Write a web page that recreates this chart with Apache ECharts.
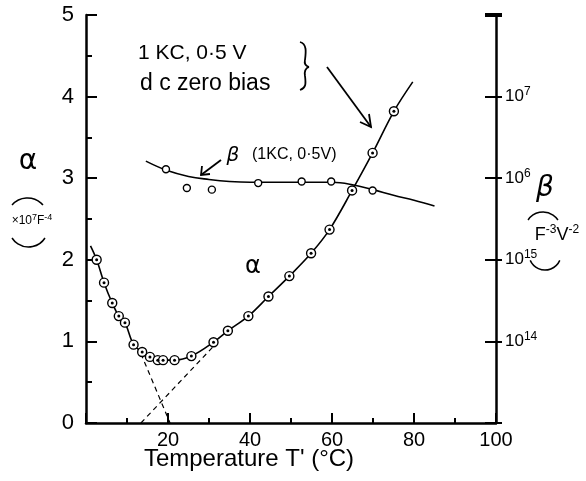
<!DOCTYPE html>
<html>
<head>
<meta charset="utf-8">
<script src="https://cdn.jsdelivr.net/npm/echarts@6/dist/echarts.min.js"></script>
<style>
  html, body { margin: 0; padding: 0; background: #fff; }
  #main { width: 586px; height: 481px; }
</style>
</head>
<body>
<div id="main"></div>
<script>
// alpha (x10^7 F^-4) measured points
const alphaT = [2.6, 4.4, 6.4, 8.0, 9.5, 11.6, 13.7, 15.6, 17.5, 18.8, 21.6, 25.7, 31.1, 34.6, 39.6, 44.5, 49.6, 54.9, 59.4, 64.9, 69.9, 75.1];
const alphaV = [2.00, 1.72, 1.47, 1.31, 1.23, 0.96, 0.87, 0.81, 0.77, 0.77, 0.77, 0.82, 0.99, 1.13, 1.31, 1.55, 1.80, 2.08, 2.37, 2.85, 3.31, 3.82];
// ends of the drawn alpha curve
const alphaStart = [1.1, 2.17];
const alphaEnd = [79.7, 4.18];

// beta (F^-3 V^-2) measured points
const betaT = [19.5, 24.6, 30.7, 42.0, 52.6, 59.8, 69.9];
const betaV = [1.29e16, 7.59e15, 7.24e15, 8.71e15, 9.12e15, 9.12e15, 7.08e15];
// drawn beta curve
const betaCurveT = [14.6, 20, 25, 30, 35, 40, 50, 60, 65, 70, 75, 80, 85];
const betaCurveV = [1.62e16, 1.23e16, 1.05e16, 9.66e15, 9.12e15, 8.91e15, 8.91e15, 8.91e15, 8.32e15, 7.24e15, 6.17e15, 5.37e15, 4.57e15];

// dashed extrapolations
const dashA = [[13.4, 0.85], [20.5, 0]];
const dashB = [[13.4, 0], [31.1, 0.94]];

// right axis tick labels (as written on the chart): base / exponent
const betaTickExp = [14, 15, 16, 17];
const betaTickSup = ['14', '15', '6', '7'];

const pair = (xs, ys) => xs.map((x, i) => [x, ys[i]]);
const alphaPts = pair(alphaT, alphaV);
const alphaCurve = [alphaStart].concat(alphaPts, [alphaEnd]);

const ink = '#000';
const hand = 'Liberation Sans';

const chart = echarts.init(document.getElementById('main'));

// brace drawn as four cubic pieces
const brace = [
  [300, 42, 307, 44, 306, 52, 305, 60],
  [305, 60, 304, 64, 306, 66, 309, 67],
  [309, 67, 306, 68, 304, 70, 305, 76],
  [305, 76, 306, 84, 306, 88, 300, 90]
].map(b => ({
  type: 'bezierCurve',
  shape: { x1: b[0], y1: b[1], cpx1: b[2], cpy1: b[3], cpx2: b[4], cpy2: b[5], x2: b[6], y2: b[7] },
  style: { stroke: ink, fill: 'none', lineWidth: 1.8 }
}));

const supRich = (big, small, lh) => ({
  b: { fontSize: big, fontFamily: hand, color: ink, lineHeight: lh },
  s: { fontSize: small, fontFamily: hand, color: ink, lineHeight: small, verticalAlign: 'top' }
});

const option = {
  backgroundColor: '#fff',
  animation: false,
  grid: { left: 86, right: 90, top: 15, bottom: 58 },
  xAxis: {
    type: 'value', min: 0, max: 100, interval: 20,
    axisLine: { lineStyle: { color: ink, width: 2.5 } },
    axisTick: { inside: true, length: 10, lineStyle: { color: ink, width: 2 } },
    minorTick: { show: true, splitNumber: 2, length: 5, lineStyle: { color: ink, width: 2 } },
    splitLine: { show: false },
    axisLabel: {
      color: ink, fontSize: 20, fontFamily: hand, margin: 7,
      formatter: v => (v === 0 ? '' : v)
    }
  },
  yAxis: [
    {
      type: 'value', min: 0, max: 5, interval: 1,
      axisLine: { lineStyle: { color: ink, width: 2.5 } },
      axisTick: { inside: true, length: 11, lineStyle: { color: ink, width: 2 } },
      minorTick: { show: true, splitNumber: 2, length: 6, lineStyle: { color: ink, width: 2 } },
      splitLine: { show: false },
      axisLabel: { color: ink, fontSize: 22, fontFamily: hand, margin: 12 }
    },
    {
      type: 'log', logBase: 10, min: 1e13, max: 1e18, position: 'right',
      axisLine: { show: true, lineStyle: { color: ink, width: 2.5 } },
      axisTick: { inside: true, length: 11, lineStyle: { color: ink, width: 2 } },
      splitLine: { show: false },
      axisLabel: {
        margin: 9,
        formatter: v => {
          const i = betaTickExp.indexOf(Math.round(Math.log10(v)));
          return i < 0 ? '' : '{b|10}{s|' + betaTickSup[i] + '}';
        },
        rich: supRich(17, 12, 22)
      }
    },
    {
      type: 'log', logBase: 10, min: 1e13, max: 1e18, position: 'right',
      axisLine: { show: false },
      axisTick: { inside: false, length: 6, lineStyle: { color: ink, width: 2 } },
      splitLine: { show: false },
      axisLabel: { show: false }
    }
  ],
  series: [
    {
      type: 'line', data: alphaCurve, smooth: 0.35, showSymbol: false,
      lineStyle: { color: ink, width: 1.6 }, z: 2
    },
    {
      type: 'line', yAxisIndex: 1, data: pair(betaCurveT, betaCurveV), smooth: 0.4, showSymbol: false,
      lineStyle: { color: ink, width: 1.6 }, z: 2
    },
    {
      type: 'line', data: dashA, showSymbol: false,
      lineStyle: { color: ink, width: 1.2, type: [5, 4] }, z: 2
    },
    {
      type: 'line', data: dashB, showSymbol: false,
      lineStyle: { color: ink, width: 1.2, type: [5, 4] }, z: 2
    },
    {
      type: 'scatter', data: alphaPts, symbol: 'circle', symbolSize: 9,
      itemStyle: { color: '#fff', borderColor: ink, borderWidth: 1.4, opacity: 1 }, z: 3
    },
    {
      type: 'scatter', data: alphaPts, symbol: 'circle', symbolSize: 3,
      itemStyle: { color: ink, opacity: 1 }, z: 4
    },
    {
      type: 'scatter', yAxisIndex: 1, data: pair(betaT, betaV), symbol: 'circle', symbolSize: 7,
      itemStyle: { color: '#fff', borderColor: ink, borderWidth: 1.4, opacity: 1 }, z: 3
    }
  ],
  graphic: [
    // axis title
    { type: 'text', x: 249, y: 459, style: { text: "Temperature T' (°C)", font: '24px "Liberation Sans"', fill: ink, align: 'center', verticalAlign: 'middle' } },
    // left axis label
    { type: 'text', x: 28, y: 162, style: { text: 'α', font: '28px "DejaVu Sans"', fill: ink, align: 'center', verticalAlign: 'middle' } },
    { type: 'text', x: 32, y: 221, style: { text: '{b|×10}{s|7}{b|F}{s|-4}', rich: supRich(12, 9, 16), align: 'center', verticalAlign: 'middle' } },
    { type: 'arc', shape: { cx: 27.5, cy: 218.6, r: 20.6, startAngle: Math.PI * 1.5 - 0.85, endAngle: Math.PI * 1.5 + 0.85 }, style: { stroke: ink, fill: 'none', lineWidth: 1.5 } },
    { type: 'arc', shape: { cx: 28.5, cy: 227.4, r: 19.6, startAngle: Math.PI * 0.5 - 1.0, endAngle: Math.PI * 0.5 + 1.0 }, style: { stroke: ink, fill: 'none', lineWidth: 1.5 } },
    // right axis label
    { type: 'text', x: 545, y: 189, style: { text: 'β', font: 'italic 28px "DejaVu Sans"', fill: ink, align: 'center', verticalAlign: 'middle' } },
    { type: 'text', x: 557, y: 235, style: { text: '{b|F}{s|-3}{b|V}{s|-2}', rich: supRich(18, 12, 22), align: 'center', verticalAlign: 'middle' } },
    { type: 'arc', shape: { cx: 543, cy: 230, r: 18, startAngle: Math.PI * 1.5 - 0.98, endAngle: Math.PI * 1.5 + 0.98 }, style: { stroke: ink, fill: 'none', lineWidth: 1.5 } },
    { type: 'arc', shape: { cx: 545, cy: 253.8, r: 16.2, startAngle: Math.PI * 0.5 - 1.15, endAngle: Math.PI * 0.5 + 1.15 }, style: { stroke: ink, fill: 'none', lineWidth: 1.5 } },
    // top bar of right axis
    { type: 'rect', shape: { x: 485, y: 13, width: 17, height: 4 }, style: { fill: ink } },
    // condition note with brace and arrow
    { type: 'text', x: 138, y: 53, style: { text: '1 KC, 0·5 V', font: '21px "Liberation Sans"', fill: ink, verticalAlign: 'middle' } },
    { type: 'text', x: 140, y: 84, style: { text: 'd c zero bias', font: '23px "Liberation Sans"', fill: ink, verticalAlign: 'middle' } }
  ].concat(brace, [
    { type: 'polyline', shape: { points: [[327, 67], [371, 127]] }, style: { stroke: ink, lineWidth: 1.8 } },
    { type: 'polyline', shape: { points: [[369, 114], [371, 127], [360, 122]] }, style: { stroke: ink, fill: 'none', lineWidth: 1.8 } },
    // beta label with arrow
    { type: 'text', x: 233, y: 156, style: { text: 'β', font: 'italic 20px "DejaVu Sans"', fill: ink, align: 'center', verticalAlign: 'middle' } },
    { type: 'text', x: 252, y: 155, style: { text: '(1KC, 0·5V)', font: '16px "Liberation Sans"', fill: ink, verticalAlign: 'middle' } },
    { type: 'polyline', shape: { points: [[221, 160], [201, 175]] }, style: { stroke: ink, lineWidth: 1.8 } },
    { type: 'polyline', shape: { points: [[202, 166], [201, 175], [210, 174]] }, style: { stroke: ink, fill: 'none', lineWidth: 1.8 } },
    // curve label
    { type: 'text', x: 253, y: 267, style: { text: 'α', font: '24px "DejaVu Sans"', fill: ink, align: 'center', verticalAlign: 'middle' } }
  ])
};

chart.setOption(option);
</script>
</body>
</html>
